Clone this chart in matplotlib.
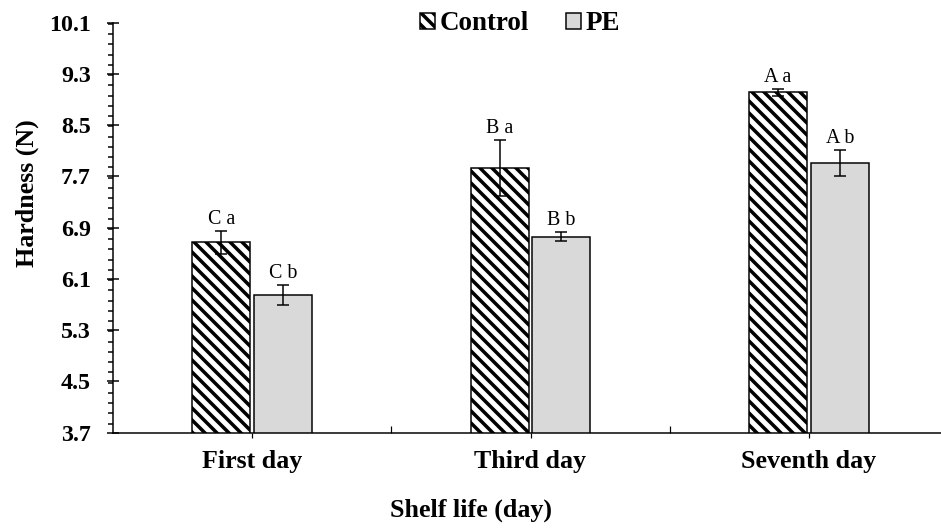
import numpy as np
import matplotlib
matplotlib.use("Agg")
import matplotlib.pyplot as plt
from matplotlib.ticker import FixedLocator, MultipleLocator

# data
days = ["First day", "Third day", "Seventh day"]
control = [6.67, 7.83, 9.01]
control_err = [0.18, 0.43, 0.06]
pe = [5.85, 6.76, 7.91]
pe_err = [0.16, 0.07, 0.20]
control_lbl = ["C a", "B a", "A a"]
pe_lbl = ["C b", "B b", "A b"]
yticks = [3.7, 4.5, 5.3, 6.1, 6.9, 7.7, 8.5, 9.3, 10.1]

plt.rcParams["font.family"] = ["Liberation Serif", "DejaVu Serif"]
plt.rcParams["hatch.linewidth"] = 3.5

fig = plt.figure(figsize=(941 / 72, 532 / 72), dpi=72)
ax = fig.add_axes([113 / 941, 1 - 432.7 / 532, (948 - 113) / 941, (432.7 - 22.5) / 532])

x = np.arange(1, len(days) + 1)
w = 0.209
off = 0.111

ax.bar(x - off, control, w, color="white", edgecolor="black", hatch="\\\\",
       linewidth=1.5, label="Control", zorder=2)
ax.bar(x + off, pe, w, color="#d9d9d9", edgecolor="black",
       linewidth=1.5, label="PE", zorder=2)
ax.errorbar(x - off, control, yerr=control_err, fmt="none", ecolor="black",
            elinewidth=1.5, capsize=6, capthick=1.5, zorder=3)
ax.errorbar(x + off, pe, yerr=pe_err, fmt="none", ecolor="black",
            elinewidth=1.5, capsize=6, capthick=1.5, zorder=3)

for xi, v, e, t in zip(x - off, control, control_err, control_lbl):
    ax.annotate(t, (xi, v + e), xytext=(0, 2), textcoords="offset points",
                ha="center", va="bottom", fontsize=20)
for xi, v, e, t in zip(x + off, pe, pe_err, pe_lbl):
    ax.annotate(t, (xi, v + e), xytext=(0, 2), textcoords="offset points",
                ha="center", va="bottom", fontsize=20)

ax.set_ylim(3.7, 10.1)
ax.set_xlim(0.5, 3.5)
ax.set_yticks(yticks)
ax.set_yticklabels([f"{t:.1f}" for t in yticks], fontsize=24, fontweight="bold")
ax.yaxis.set_minor_locator(MultipleLocator(0.16))
ax.tick_params(axis="y", which="major", direction="inout", length=12, width=1.5, pad=16)
ax.tick_params(axis="y", which="minor", direction="out", length=5, width=1.5)

ax.set_xticks(x)
ax.set_xticklabels(days, fontsize=26, fontweight="bold")
ax.xaxis.set_minor_locator(FixedLocator([1.5, 2.5]))
ax.tick_params(axis="x", which="major", direction="out", length=5, width=1.2, pad=12)
ax.tick_params(axis="x", which="minor", direction="in", length=7, width=1.2)

ax.spines["top"].set_visible(False)
ax.spines["right"].set_visible(False)
ax.spines["left"].set_linewidth(1.5)
ax.spines["bottom"].set_linewidth(1.5)

fig.text(27 / 941, 1 - 193 / 532, "Hardness (N)", rotation=90, ha="center",
         va="center", fontsize=26, fontweight="bold")
fig.text(471 / 941, 1 - 510 / 532, "Shelf life (day)", ha="center",
         va="center", fontsize=26, fontweight="bold")

fig.legend(loc="center", bbox_to_anchor=(520 / 941, 1 - 24 / 532), ncol=2, frameon=False,
           prop={"size": 27, "weight": "bold"}, handlelength=0.55, handleheight=0.55,
           handletextpad=0.15, columnspacing=1.4, borderpad=0)

fig.savefig("out.png", dpi=72)
